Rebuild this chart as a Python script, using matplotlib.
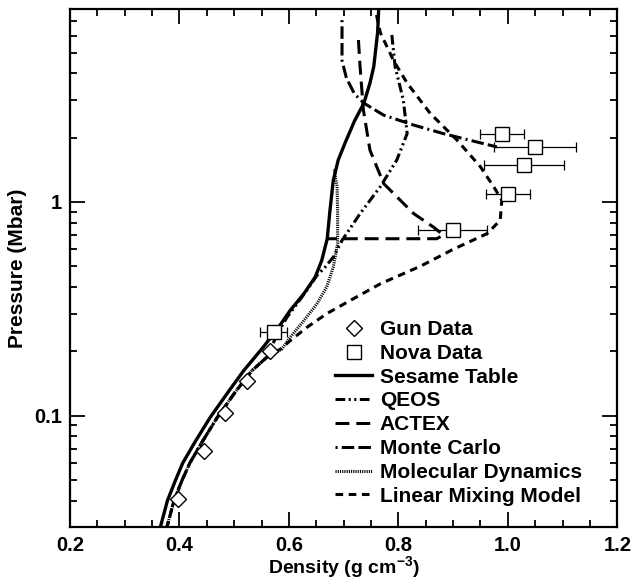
"""Hugoniot of deuterium: pressure vs density, models compared with gun and Nova data."""

import matplotlib

matplotlib.use("Agg")

import matplotlib.pyplot as plt
from matplotlib.lines import Line2D
from matplotlib.ticker import FixedLocator, LogLocator, NullFormatter, MultipleLocator

plt.rcParams["font.family"] = ["Liberation Sans", "DejaVu Sans"]
plt.rcParams["lines.scale_dashes"] = False

# ---- data (density g/cc, pressure Mbar) ----
tail_rho = [0.562, 0.532, 0.503, 0.469, 0.441, 0.419, 0.405, 0.390, 0.377]
tail_p = [0.190, 0.162, 0.130, 0.098, 0.075, 0.060, 0.050, 0.040, 0.030]

sesame_rho = [0.365, 0.378, 0.393, 0.406, 0.428, 0.456, 0.490, 0.517, 0.553, 0.581, 0.602,
              0.627, 0.648, 0.660, 0.670, 0.675, 0.681, 0.690, 0.703, 0.720, 0.737, 0.748,
              0.755, 0.762, 0.764]
sesame_p = [0.030, 0.040, 0.050, 0.060, 0.075, 0.098, 0.130, 0.162, 0.209, 0.259, 0.310,
            0.371, 0.445, 0.533, 0.673, 0.914, 1.26, 1.57, 1.90, 2.40, 2.90, 3.60,
            4.30, 6.20, 8.00]

qeos_rho = [0.788, 0.794, 0.809, 0.816, 0.797, 0.767, 0.730, 0.697, 0.681, 0.666, 0.651,
            0.637, 0.617, 0.597, 0.582, 0.570]
qeos_p = [6.05, 4.30, 3.00, 2.09, 1.57, 1.18, 0.882, 0.661, 0.552, 0.495, 0.453,
          0.400, 0.340, 0.290, 0.250, 0.215]

actex_rho = [0.727, 0.730, 0.736, 0.748, 0.773, 0.828, 0.865, 0.882, 0.870, 0.669]
actex_p = [5.73, 4.30, 2.70, 1.75, 1.22, 0.882, 0.760, 0.700, 0.673, 0.673]

mc_rho = [0.697, 0.697, 0.705, 0.720, 0.737, 0.773, 0.828, 0.882, 0.943, 0.980]
mc_p = [7.10, 4.60, 3.80, 3.20, 2.90, 2.55, 2.29, 2.09, 1.91, 1.81]

md_rho = [0.683, 0.685, 0.688, 0.689, 0.689, 0.681, 0.669, 0.651, 0.627, 0.602, 0.587]
md_p = [1.42, 1.30, 1.18, 0.90, 0.64, 0.495, 0.400, 0.333, 0.278, 0.232, 0.205]

lmm_rho = [0.760, 0.767, 0.791, 0.816, 0.858, 0.907, 0.950, 0.974, 0.989, 0.986, 0.962,
           0.900, 0.840, 0.767, 0.712, 0.669, 0.633, 0.602, 0.585]
lmm_p = [7.50, 6.20, 4.60, 3.60, 2.60, 1.95, 1.46, 1.18, 1.02, 0.82, 0.711,
         0.600, 0.500, 0.414, 0.346, 0.300, 0.259, 0.224, 0.205]

gun_rho = [0.398, 0.444, 0.483, 0.523, 0.566]
gun_p = [0.0405, 0.0683, 0.103, 0.1455, 0.201]

nova_rho = [0.572, 0.899, 1.000, 1.029, 1.050, 0.989]
nova_p = [0.245, 0.736, 1.095, 1.49, 1.81, 2.09]
nova_err = [0.024, 0.0625, 0.040, 0.073, 0.075, 0.040]

x_ticks = [0.2, 0.4, 0.6, 0.8, 1.0, 1.2]
x_tick_labels = ["0.2", "0.4", "0.6", "0.8", "1.0", "1.2"]
y_ticks = [0.1, 1.0]
y_tick_labels = ["0.1", "1"]

# line styles (dash patterns in points)
STYLES = {
    "Sesame Table": dict(linestyle="-", linewidth=2.4),
    "QEOS": dict(linestyle=(0, (7, 2.5, 1.5, 2.5, 1.5, 2.5)), linewidth=2.2),
    "ACTEX": dict(linestyle=(0, (10, 5)), linewidth=2.2),
    "Monte Carlo": dict(linestyle=(0, (1.5, 3, 9, 3, 9, 3)), linewidth=2.2),
    "Molecular Dynamics": dict(linestyle=(0, (0.8, 0.8)), linewidth=2.2),
    "Linear Mixing Model": dict(linestyle=(0, (5.5, 4)), linewidth=2.2),
}


def main() -> None:
    fig = plt.figure(figsize=(6.34, 5.83), dpi=100)
    ax = fig.add_axes([0.1104, 0.0955, 0.8633, 0.889])

    curves = [
        ("Sesame Table", sesame_rho, sesame_p),
        ("QEOS", qeos_rho + tail_rho, qeos_p + tail_p),
        ("ACTEX", actex_rho, actex_p),
        ("Monte Carlo", mc_rho, mc_p),
        ("Molecular Dynamics", md_rho + tail_rho, md_p + tail_p),
        ("Linear Mixing Model", lmm_rho + tail_rho, lmm_p + tail_p),
    ]
    handles = []
    for name, rho, p in curves:
        line, = ax.plot(rho, p, color="black", label=name, **STYLES[name])
        handles.append(line)

    ax.errorbar(nova_rho, nova_p, xerr=nova_err, fmt="none", ecolor="black",
                elinewidth=0.9, capsize=3.5, capthick=0.9, zorder=3)
    ax.plot(nova_rho, nova_p, "s", ms=9.5, mfc="white", mec="black", mew=1.0, zorder=4)
    ax.plot(gun_rho, gun_p, "D", ms=8.5, mfc="white", mec="black", mew=1.0, zorder=4)

    gun_h = Line2D([], [], marker="D", ls="none", ms=8.5, mfc="white", mec="black", mew=1.0)
    nova_h = Line2D([], [], marker="s", ls="none", ms=9.5, mfc="white", mec="black", mew=1.0)
    ax.legend([gun_h, nova_h] + handles, ["Gun Data", "Nova Data"] + [c[0] for c in curves],
              loc="upper left", bbox_to_anchor=(0.466, 0.42), frameon=False,
              borderpad=0, handlelength=1.75, handletextpad=0.38, labelspacing=0.23,
              prop={"size": 15, "weight": "bold"})

    ax.set_yscale("log")
    ax.set_xlim(0.2, 1.2)
    ax.set_ylim(0.03, 8)

    ax.xaxis.set_major_locator(FixedLocator(x_ticks))
    ax.set_xticklabels(x_tick_labels)
    ax.xaxis.set_minor_locator(MultipleLocator(0.05))
    ax.yaxis.set_major_locator(FixedLocator(y_ticks))
    ax.set_yticklabels(y_tick_labels)
    ax.yaxis.set_minor_locator(LogLocator(base=10, subs=range(2, 10)))
    ax.yaxis.set_minor_formatter(NullFormatter())

    ax.tick_params(which="both", direction="in", top=True, right=True, width=1.3)
    ax.tick_params(which="major", length=11, labelsize=14.5)
    ax.tick_params(which="minor", length=5)
    ax.tick_params(axis="x", which="major", pad=6)
    ax.tick_params(axis="y", which="major", pad=6)
    for lab in ax.get_xticklabels() + ax.get_yticklabels():
        lab.set_fontweight("bold")
    for spine in ax.spines.values():
        spine.set_linewidth(1.6)

    ax.set_xlabel("Density (g cm$^{\\mathregular{-3}}$)", fontsize=14, fontweight="bold", labelpad=0)
    ax.set_ylabel("Pressure (Mbar)", fontsize=15, fontweight="bold", labelpad=5)

    fig.savefig("out.png", dpi=100)
    plt.close(fig)


if __name__ == "__main__":
    main()
